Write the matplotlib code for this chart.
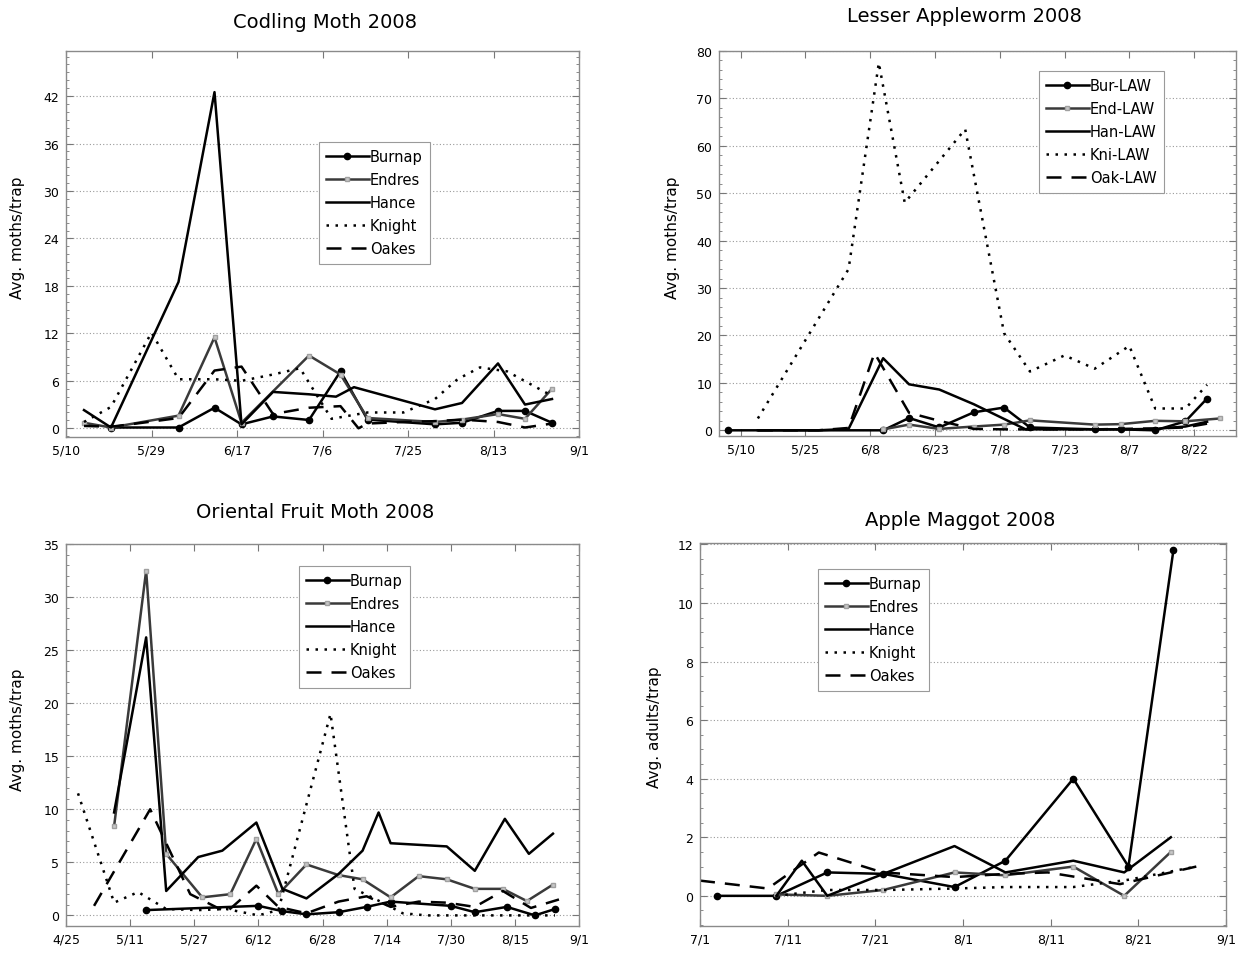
import matplotlib
matplotlib.use("Agg")
import matplotlib.pyplot as plt
from matplotlib.ticker import MultipleLocator, FixedLocator
import numpy as np

plt.rcParams['font.family'] = ['DejaVu Sans']

# ---------------- Codling Moth 2008 (x = days after 5/10) ----------------
cm_ticks = [0, 19, 38, 57, 76, 95, 114]
cm_ticklabels = ['5/10', '5/29', '6/17', '7/6', '7/25', '8/13', '9/1']
cm_burnap_x = [10, 25, 33, 39, 46, 54, 61, 67, 82, 88, 96, 102, 108]
cm_burnap_y = [0.1, 0.1, 2.6, 0.5, 1.5, 1.05, 7.2, 1.1, 0.5, 0.7, 2.2, 2.2, 0.7]
cm_endres_x = [4, 10, 25, 33, 39, 54, 61, 67, 82, 88, 96, 102, 108]
cm_endres_y = [0.7, 0.1, 1.6, 11.5, 0.7, 9.2, 6.8, 1.3, 0.8, 1.1, 1.8, 1.2, 5.0]
cm_hance_x = [4, 10, 25, 33, 39, 46, 54, 60, 64, 82, 88, 96, 102, 108]
cm_hance_y = [2.3, 0.1, 18.5, 42.5, 0.5, 4.6, 4.3, 4.0, 5.2, 2.4, 3.2, 8.2, 3.0, 3.7]
cm_knight_x = [4, 10, 19, 25, 33, 39, 46, 52, 59, 67, 75, 82, 87, 92, 98, 108]
cm_knight_y = [0.8, 2.7, 12.1, 6.2, 6.2, 6.0, 6.8, 7.6, 1.2, 2.0, 2.0, 3.7, 6.2, 7.7, 7.2, 4.1]
cm_oakes_x = [4, 10, 17, 25, 33, 39, 46, 54, 61, 65, 67, 75, 82, 88, 96, 102, 108]
cm_oakes_y = [0.3, 0.2, 0.7, 1.3, 7.3, 7.8, 1.8, 2.6, 2.8, 0.0, 0.6, 0.8, 0.9, 1.1, 0.8, 0.1, 0.6]

# ---------------- Lesser Appleworm 2008 (x = days after 5/10) ----------------
law_ticks = [0, 15, 30, 45, 60, 75, 90, 105]
law_ticklabels = ['5/10', '5/25', '6/8', '6/23', '7/8', '7/23', '8/7', '8/22']
law_bur_x = [-3, 33, 39, 46, 54, 61, 67, 82, 88, 96, 103, 108]
law_bur_y = [0, 0, 2.6, 0.6, 3.8, 4.8, 0.6, 0.2, 0.2, 0.0, 1.9, 6.7]
law_end_x = [33, 39, 46, 54, 61, 67, 82, 88, 96, 103, 111]
law_end_y = [0.2, 1.2, 0.3, 0.8, 1.2, 2.1, 1.2, 1.3, 2.0, 1.9, 2.5]
law_han_x = [4, 11, 18, 25, 33, 39, 46, 54, 61, 66, 82, 88, 96, 103, 108]
law_han_y = [0, 0, 0, 0.3, 15.2, 9.7, 8.6, 5.5, 2.4, 0.2, 0.2, 0.2, 0.3, 0.8, 1.8]
law_kni_x = [4, 25, 32, 38, 52, 61, 67, 75, 82, 90, 96, 103, 108]
law_kni_y = [2.5, 34, 77.5, 48, 63.5, 20.5, 12.4, 15.8, 13.0, 17.8, 4.6, 4.6, 9.6]
law_oak_x = [4, 11, 18, 25, 31, 39, 46, 54, 61, 67, 82, 88, 96, 103, 108]
law_oak_y = [0, 0, 0, 0.5, 16.3, 3.7, 2.0, 0.3, 0.2, 0.2, 0.2, 0.3, 0.4, 0.6, 1.4]

# ---------------- Oriental Fruit Moth 2008 (x = days after 4/25) ----------------
ofm_ticks = [0, 16, 32, 48, 64, 80, 96, 112, 128]
ofm_ticklabels = ['4/25', '5/11', '5/27', '6/12', '6/28', '7/14', '7/30', '8/15', '9/1']
ofm_burnap_x = [20, 48, 54, 60, 68, 75, 81, 96, 102, 110, 117, 122]
ofm_burnap_y = [0.5, 0.9, 0.4, 0.1, 0.3, 0.8, 1.3, 0.9, 0.3, 0.8, 0.0, 0.6]
ofm_endres_x = [12, 20, 25, 34, 41, 47.5, 53, 60, 68, 74, 81, 88, 95, 102, 109, 115, 121.5]
ofm_endres_y = [8.4, 32.5, 5.8, 1.7, 2.0, 7.2, 2.0, 4.8, 3.8, 3.4, 1.7, 3.7, 3.4, 2.5, 2.5, 1.35, 2.9]
ofm_hance_x = [12, 20, 25, 33, 39, 47.5, 54, 60, 68, 74, 78, 81, 95, 102, 109.5, 115.5, 121.5]
ofm_hance_y = [9.7, 26.2, 2.3, 5.5, 6.1, 8.75, 2.5, 1.6, 3.9, 6.1, 9.7, 6.8, 6.5, 4.2, 9.1, 5.8, 7.7]
ofm_knight_x = [3, 12, 18, 25, 33, 40, 48, 53, 66, 72, 79, 84, 90, 96, 102, 110, 116, 122]
ofm_knight_y = [11.5, 1.2, 2.2, 0.6, 0.5, 0.6, 0.0, 0.5, 19.0, 2.5, 1.2, 0.2, 0, 0, 0, 0, 0, 0]
ofm_oakes_x = [7, 21, 31, 40, 47.5, 53, 60, 68, 75, 81, 88, 95, 102, 109, 116, 123]
ofm_oakes_y = [0.9, 10.0, 2.0, 0.3, 2.8, 0.8, 0.2, 1.3, 1.8, 0.8, 1.3, 1.2, 0.8, 2.3, 0.7, 1.5]

# ---------------- Apple Maggot 2008 (x = days after 7/1) ----------------
am_ticks = list(np.linspace(0, 62, 7))
am_ticklabels = ['7/1', '7/11', '7/21', '8/1', '8/11', '8/21', '9/1']
am_burnap_x = [2, 9, 15, 21.6, 30, 36, 44, 50.5, 55.8]
am_burnap_y = [0, 0, 0.8, 0.75, 0.3, 1.2, 4.0, 1.0, 11.8]
am_endres_x = [9, 15, 21.6, 30, 36, 44, 50, 55.5]
am_endres_y = [0.05, 0, 0.2, 0.8, 0.7, 1.0, 0, 1.5]
am_hance_x = [9, 12, 15, 30, 36, 44, 50, 55.5]
am_hance_y = [0, 1.2, 0, 1.7, 0.8, 1.2, 0.8, 2.0]
am_knight_x = [9, 15, 22, 30, 36, 44, 50.5, 58.5]
am_knight_y = [0, 0.2, 0.2, 0.25, 0.3, 0.3, 0.55, 1.0]
am_oakes_x = [0, 8, 14, 21.5, 30, 36, 41, 49.5, 58.5]
am_oakes_y = [0.52, 0.25, 1.48, 0.8, 0.64, 0.75, 0.8, 0.4, 1.0]

W, H = 1242, 954
fig = plt.figure(figsize=(W / 100, H / 100), dpi=100)


def pos(l, r, t, b):
    return [l / W, 1 - b / H, (r - l) / W, (b - t) / H]


STY = {
    'burnap': dict(color='black', lw=1.8, marker='o', ms=4.5, mfc='black', mec='black'),
    'endres': dict(color='#3a3a3a', lw=1.8, marker='s', ms=3.5, mfc='#c8c8c8', mec='#a0a0a0'),
    'hance': dict(color='black', lw=1.8),
    'knight': dict(color='black', lw=1.8, linestyle=(0, (1, 2.6))),
    'oakes': dict(color='black', lw=1.8, linestyle=(0, (6, 4))),
}


def panel(rect, series, labels, xlim, ylim, xticks, xticklabels, yticks, yminor,
          title, title_xy, ylabel, ylabel_xy, leg_xy):
    ax = fig.add_axes(pos(*rect))
    keys = ['burnap', 'endres', 'hance', 'knight', 'oakes']
    for k, (xs, ys), lab in zip(keys, series, labels):
        ax.plot(xs, ys, label=lab, **STY[k])
    ax.set_xlim(*xlim)
    ax.set_ylim(*ylim)
    ax.xaxis.set_major_locator(FixedLocator(xticks))
    ax.set_xticklabels(xticklabels)
    ax.yaxis.set_major_locator(FixedLocator(yticks))
    ax.yaxis.set_minor_locator(MultipleLocator(yminor))
    ax.tick_params(which='both', direction='in', top=True, right=True,
                   labelsize=9, colors='#777777', labelcolor='black', pad=5)
    ax.tick_params(which='major', length=5, width=0.8)
    ax.tick_params(which='minor', length=2.5, width=0.6)
    ax.yaxis.grid(True, which='major', linestyle=(0, (1, 2)), color='#9a9a9a', lw=0.8)
    for sp in ax.spines.values():
        sp.set_color('#8a8a8a')
        sp.set_linewidth(1.0)
    fig.text(title_xy[0] / W, 1 - title_xy[1] / H, title, ha='center', va='center', fontsize=14)
    fig.text(ylabel_xy[0] / W, 1 - ylabel_xy[1] / H, ylabel, ha='center', va='center',
             rotation=90, fontsize=11)
    leg = ax.legend(loc='upper left', bbox_to_anchor=(leg_xy[0] / W, 1 - leg_xy[1] / H),
                    bbox_transform=fig.transFigure, borderaxespad=0, fontsize=10.5,
                    handlelength=2.9, handletextpad=0.1, labelspacing=0.55,
                    borderpad=0.5, fancybox=False, framealpha=1)
    leg.get_frame().set_edgecolor('#9a9a9a')
    leg.get_frame().set_linewidth(0.8)
    return ax


lab5 = ['Burnap', 'Endres', 'Hance', 'Knight', 'Oakes']

panel((66, 579, 52, 438),
      [(cm_burnap_x, cm_burnap_y), (cm_endres_x, cm_endres_y), (cm_hance_x, cm_hance_y),
       (cm_knight_x, cm_knight_y), (cm_oakes_x, cm_oakes_y)],
      lab5, (0, 114), (-1.1, 47.7), cm_ticks, cm_ticklabels, list(range(0, 43, 6)), 1,
      'Codling Moth 2008', (325, 22), 'Avg. moths/trap', (18, 238), (319, 143))

panel((719, 1236, 52, 437),
      [(law_bur_x, law_bur_y), (law_end_x, law_end_y), (law_han_x, law_han_y),
       (law_kni_x, law_kni_y), (law_oak_x, law_oak_y)],
      ['Bur-LAW', 'End-LAW', 'Han-LAW', 'Kni-LAW', 'Oak-LAW'],
      (-5, 114.7), (-1.2, 80), law_ticks, law_ticklabels, list(range(0, 81, 10)), 2,
      'Lesser Appleworm 2008', (964, 17), 'Avg. moths/trap', (672, 238), (1039, 72))

panel((66, 579, 545, 927),
      [(ofm_burnap_x, ofm_burnap_y), (ofm_endres_x, ofm_endres_y), (ofm_hance_x, ofm_hance_y),
       (ofm_knight_x, ofm_knight_y), (ofm_oakes_x, ofm_oakes_y)],
      lab5, (0, 128), (-1.0, 35), ofm_ticks, ofm_ticklabels, list(range(0, 36, 5)), 1,
      'Oriental Fruit Moth 2008', (315, 513), 'Avg. moths/trap', (18, 730), (299, 567))

panel((700, 1226, 544, 927),
      [(am_burnap_x, am_burnap_y), (am_endres_x, am_endres_y), (am_hance_x, am_hance_y),
       (am_knight_x, am_knight_y), (am_oakes_x, am_oakes_y)],
      lab5, (0, 62), (-1.03, 12.05), am_ticks, am_ticklabels, list(range(0, 13, 2)), 0.5,
      'Apple Maggot 2008', (960, 521), 'Avg. adults/trap', (655, 727), (818, 570))

fig.savefig('out.png', dpi=100, facecolor='white')
